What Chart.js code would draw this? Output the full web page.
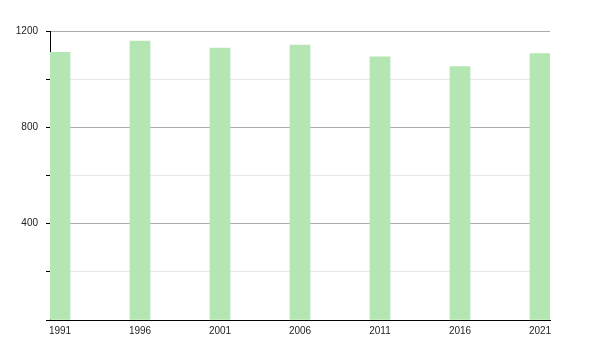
<!DOCTYPE html>
<html>
<head>
<meta charset="utf-8">
<script src="https://cdn.jsdelivr.net/npm/chart.js@4"></script>
<style>
html,body{margin:0;padding:0;background:#fff;}
#wrap{width:600px;height:350px;position:relative;}
</style>
</head>
<body>
<div id="wrap"><canvas id="c" width="600" height="350"></canvas></div>
<script>
const years = [1991, 1996, 2001, 2006, 2011, 2016, 2021];
const population = [1111, 1158, 1129, 1142, 1093, 1052, 1106];
const yTickLabels = [400, 800, 1200];

const barColor = '#b3e6b3';

new Chart(document.getElementById('c'), {
  type: 'bar',
  data: {
    datasets: [{
      data: years.map((y, i) => ({x: y, y: population[i]})),
      backgroundColor: barColor,
      borderWidth: 0,
      barThickness: 20
    }]
  },
  options: {
    responsive: false,
    animation: false,
    events: [],
    layout: {padding: {top: 31, right: 50, left: 0, bottom: 0}},
    plugins: {legend: {display: false}, tooltip: {enabled: false}},
    scales: {
      x: {
        type: 'linear',
        offset: false,
        min: years[0] - 0.625,
        max: years[years.length - 1] + 0.625,
        afterBuildTicks: (s) => { s.ticks = years.map(v => ({value: v})); },
        afterFit: (s) => { s.height = 30; },
        grid: {display: false, drawTicks: false, offset: false},
        border: {display: true, color: '#000', width: 1},
        ticks: {
          autoSkip: false,
          maxRotation: 0,
          padding: 5,
          color: '#222',
          font: {family: 'Liberation Sans, Arial, sans-serif', size: 10},
          callback: (v) => String(v)
        }
      },
      y: {
        min: 0,
        max: 1200,
        afterFit: (s) => { s.width = 50; },
        grid: {
          color: (ctx) => (ctx.tick && ctx.tick.value % 400 === 0) ? '#aaaaaa' : '#e6e6e6',
          tickColor: '#000',
          tickLength: 4
        },
        border: {display: true, color: '#000', width: 1},
        ticks: {
          stepSize: 200,
          padding: 8,
          color: '#222',
          font: {family: 'Liberation Sans, Arial, sans-serif', size: 10},
          callback: (v) => (yTickLabels.includes(v) ? String(v) : '')
        }
      }
    }
  }
});
</script>
</body>
</html>
